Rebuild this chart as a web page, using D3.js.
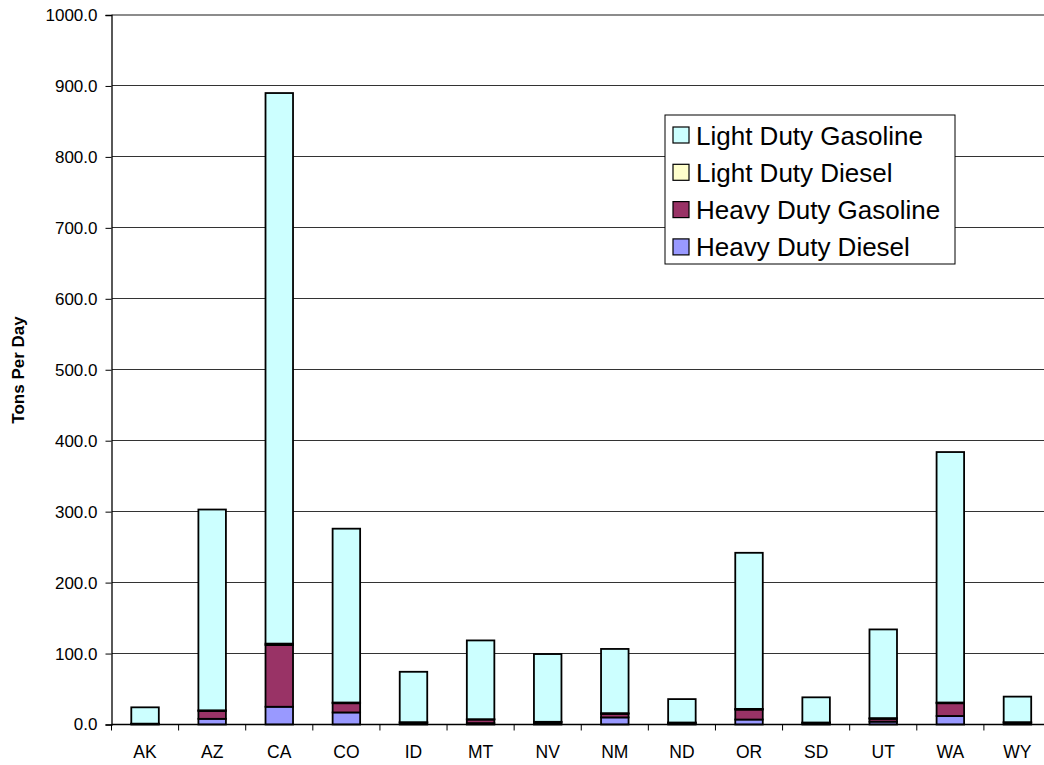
<!DOCTYPE html>
<html>
<head>
<meta charset="utf-8">
<script src="https://cdn.jsdelivr.net/npm/d3@7"></script>
<style>
  html, body { margin: 0; padding: 0; background: #fff; }
  svg { display: block; font-family: "Liberation Sans", Arial, sans-serif; }
</style>
</head>
<body>
<svg id="chart" width="1044" height="765"></svg>
<script>
// States along the x axis
const states = ["AK", "AZ", "CA", "CO", "ID", "MT", "NV", "NM", "ND", "OR", "SD", "UT", "WA", "WY"];

// Emissions by vehicle class, tons per day
const heavyDutyDiesel   = [0.5, 8, 25, 17, 1.5, 2, 1.5, 10, 1, 7, 1, 4, 12, 1.5];
const heavyDutyGasoline = [0.5, 11, 87, 13, 1.5, 5, 2, 5, 1.5, 14, 1.5, 4, 18, 1.5];
const lightDutyDiesel   = [0.2, 1, 2, 1, 0.3, 0.5, 0.3, 1, 0.3, 1, 0.3, 1, 1, 0.3];
const lightDutyGasoline = [23, 283, 776, 245, 71, 111, 95.5, 90.5, 33, 220, 35.5, 125, 353, 36];

const yTicks = [0, 100, 200, 300, 400, 500, 600, 700, 800, 900, 1000];

// Stack order bottom to top
const seriesNames = ["Heavy Duty Diesel", "Heavy Duty Gasoline", "Light Duty Diesel", "Light Duty Gasoline"];
const seriesValues = [heavyDutyDiesel, heavyDutyGasoline, lightDutyDiesel, lightDutyGasoline];
const seriesColors = ["#9999FF", "#993366", "#FFFFCC", "#CCFFFF"];

const svg = d3.select("#chart");
const plot = { left: 111.5, right: 1051, top: 15, bottom: 724.5 };

const x = d3.scaleBand().domain(states).range([plot.left, plot.right]).paddingInner(0.59).paddingOuter(0.295);
const y = d3.scaleLinear().domain([0, 1000]).range([plot.bottom, plot.top]);

const rows = states.map((s, i) => {
  const r = { state: s };
  seriesNames.forEach((n, k) => { r[n] = seriesValues[k][i]; });
  return r;
});
const stacked = d3.stack().keys(seriesNames)(rows);

// Horizontal gridlines
svg.append("g").selectAll("line")
  .data(yTicks.filter(t => t > 0 && t < 1000))
  .join("line")
  .attr("x1", plot.left).attr("x2", plot.right)
  .attr("y1", d => y(d)).attr("y2", d => y(d))
  .attr("stroke", "#333").attr("stroke-width", 1)
  .attr("shape-rendering", "crispEdges");

// Top border of the plot area
svg.append("line")
  .attr("x1", plot.left).attr("x2", plot.right)
  .attr("y1", y(1000)).attr("y2", y(1000))
  .attr("stroke", "#8c8c8c").attr("stroke-width", 2);

// Stacked bars
svg.append("g").selectAll("g")
  .data(stacked)
  .join("g")
  .attr("fill", (d, i) => seriesColors[i])
  .selectAll("rect")
  .data(d => d.map(v => ({ v, state: v.data.state })))
  .join("rect")
  .attr("x", d => x(d.state))
  .attr("width", x.bandwidth())
  .attr("y", d => y(d.v[1]))
  .attr("height", d => y(d.v[0]) - y(d.v[1]))
  .attr("stroke", "#000")
  .attr("stroke-width", 1.8);

// Y axis
const yAxis = d3.axisLeft(y).tickValues(yTicks).tickSize(6).tickPadding(8).tickFormat(d3.format(".1f"));
const gy = svg.append("g").attr("transform", `translate(${plot.left},0)`).call(yAxis);
gy.select(".domain").attr("stroke", "#000").attr("stroke-width", 1.3);
gy.selectAll(".tick line").attr("stroke", "#000");
gy.selectAll(".tick text").attr("font-size", 17).attr("fill", "#000")
  .attr("font-family", "'Liberation Sans', Arial, sans-serif");

// X axis: ticks at category boundaries
svg.append("line")
  .attr("x1", plot.left).attr("x2", plot.right)
  .attr("y1", plot.bottom).attr("y2", plot.bottom)
  .attr("stroke", "#000").attr("stroke-width", 1.3);
const step = x.step();
svg.append("g").selectAll("line")
  .data(d3.range(states.length + 1))
  .join("line")
  .attr("x1", i => plot.left + i * step).attr("x2", i => plot.left + i * step)
  .attr("y1", plot.bottom).attr("y2", plot.bottom + 6)
  .attr("stroke", "#000").attr("stroke-width", 1);
svg.append("g").selectAll("text")
  .data(states)
  .join("text")
  .attr("x", d => x(d) + x.bandwidth() / 2)
  .attr("y", 758)
  .attr("text-anchor", "middle")
  .attr("font-size", 17.5)
  .text(d => d);

// Y axis title
svg.append("text")
  .attr("transform", "translate(24,370) rotate(-90)")
  .attr("text-anchor", "middle")
  .attr("font-size", 17)
  .attr("font-weight", "bold")
  .text("Tons Per Day");

// Legend
const legendOrder = [3, 2, 1, 0];
const legend = svg.append("g").attr("transform", "translate(665,115)");
legend.append("rect")
  .attr("width", 290).attr("height", 149)
  .attr("fill", "#fff").attr("stroke", "#000").attr("stroke-width", 1);
legend.selectAll("g.item")
  .data(legendOrder)
  .join("g")
  .attr("class", "item")
  .attr("transform", (d, i) => `translate(0,${20 + i * 37.3})`)
  .each(function (k) {
    const g = d3.select(this);
    g.append("rect").attr("x", 8).attr("y", -8).attr("width", 16).attr("height", 16)
      .attr("fill", seriesColors[k]).attr("stroke", "#000").attr("stroke-width", 1.2);
    g.append("text").attr("x", 31).attr("y", 9.5).attr("font-size", 26).text(seriesNames[k]);
  });
</script>
</body>
</html>
